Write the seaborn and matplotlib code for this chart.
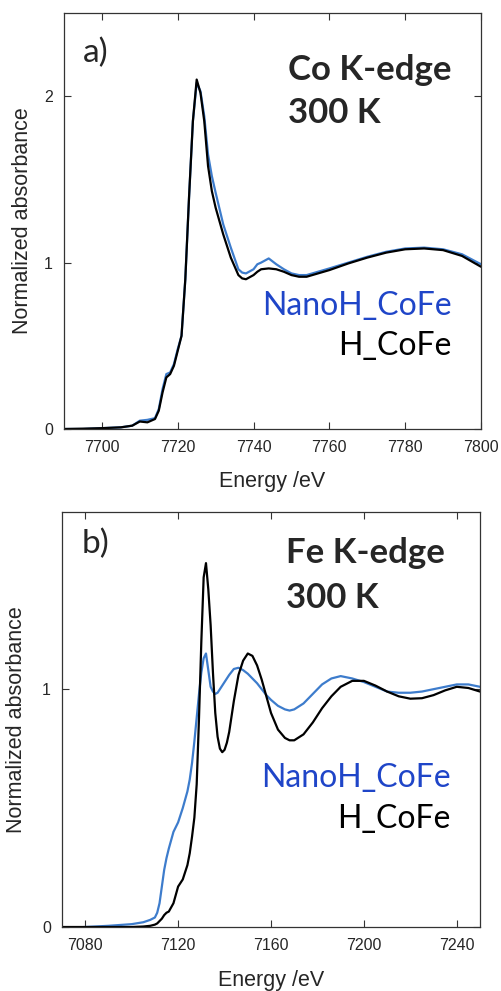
import matplotlib
matplotlib.use("Agg")
import matplotlib.pyplot as plt
import seaborn as sns
import pandas as pd

# ---- data ----
co_energy = [7690, 7695, 7700, 7705, 7708, 7710, 7712, 7714, 7715, 7716, 7717, 7718, 7719, 7720,
             7721, 7722, 7723, 7724, 7725, 7726, 7727, 7728, 7729, 7730, 7732, 7734, 7736, 7737,
             7738, 7740, 7741, 7742, 7744, 7746, 7748, 7750, 7752, 7754, 7760, 7765, 7770, 7775,
             7780, 7785, 7790, 7795, 7800]
co_h = [0.0, 0.002, 0.005, 0.01, 0.02, 0.045, 0.04, 0.06, 0.11, 0.22, 0.31, 0.33, 0.38, 0.47,
        0.56, 0.9, 1.4, 1.85, 2.1, 2.02, 1.85, 1.58, 1.43, 1.33, 1.17, 1.03, 0.925, 0.905,
        0.9, 0.925, 0.945, 0.96, 0.965, 0.96, 0.945, 0.925, 0.915, 0.915, 0.955, 0.995, 1.03, 1.06,
        1.08, 1.085, 1.075, 1.04, 0.975]
co_nano = [0.0, 0.0, 0.005, 0.01, 0.02, 0.05, 0.055, 0.065, 0.12, 0.24, 0.33, 0.34, 0.39, 0.48,
           0.56, 0.9, 1.4, 1.85, 2.08, 2.03, 1.88, 1.65, 1.52, 1.42, 1.23, 1.09, 0.96, 0.94,
           0.935, 0.96, 0.99, 1.0, 1.025, 0.99, 0.96, 0.935, 0.925, 0.925, 0.965, 1.0, 1.035, 1.065,
           1.085, 1.09, 1.08, 1.05, 0.99]

fe_energy = [7070, 7080, 7090, 7100, 7105, 7108, 7110, 7111, 7112, 7113, 7114, 7115, 7116, 7118,
             7120, 7122, 7124, 7125, 7126, 7127, 7128, 7129, 7130, 7131, 7132, 7133, 7134, 7135,
             7136, 7137, 7138, 7139, 7140, 7141, 7142, 7144, 7146, 7148, 7150, 7152, 7154, 7156,
             7158, 7160, 7163, 7166, 7168, 7170, 7174, 7178, 7182, 7186, 7190, 7195, 7200, 7205,
             7210, 7215, 7220, 7225, 7230, 7235, 7240, 7245, 7250]
fe_h = [0.0, 0.0, 0.0, 0.0, 0.002, 0.005, 0.01, 0.015, 0.025, 0.035, 0.05, 0.06, 0.065, 0.1,
        0.17, 0.2, 0.26, 0.31, 0.38, 0.46, 0.6, 0.88, 1.2, 1.47, 1.53, 1.42, 1.27, 1.07,
        0.9, 0.8, 0.75, 0.735, 0.745, 0.775, 0.82, 0.95, 1.06, 1.12, 1.15, 1.14, 1.1, 1.04,
        0.97, 0.9, 0.83, 0.795, 0.785, 0.785, 0.81, 0.86, 0.92, 0.97, 1.01, 1.035, 1.035, 1.015,
        0.99, 0.97, 0.96, 0.962, 0.975, 0.995, 1.01, 1.005, 0.99]
fe_nano = [-0.005, 0.0, 0.005, 0.012, 0.02, 0.03, 0.04, 0.06, 0.1, 0.17, 0.24, 0.29, 0.33, 0.4,
           0.44, 0.5, 0.57, 0.62, 0.69, 0.78, 0.88, 0.98, 1.07, 1.13, 1.15, 1.08, 1.01, 0.99,
           0.98, 0.985, 1.0, 1.015, 1.03, 1.045, 1.06, 1.085, 1.09, 1.08, 1.065, 1.045, 1.025, 1.0,
           0.975, 0.955, 0.93, 0.915, 0.91, 0.915, 0.94, 0.98, 1.02, 1.045, 1.055, 1.045, 1.03, 1.01,
           0.99, 0.985, 0.985, 0.99, 1.0, 1.01, 1.02, 1.02, 1.01]

series_names = ["NanoH_CoFe", "H_CoFe"]
co_xticks = [7700, 7720, 7740, 7760, 7780, 7800]
co_yticks = [0, 1, 2]
fe_xticks = [7080, 7120, 7160, 7200, 7240]
fe_yticks = [0, 1]

BLUE_LINE = "#3d7ccc"
BLUE_TEXT = "#1f45c8"

sns.set_style("ticks")
plt.rcParams["font.family"] = ["Liberation Sans", "DejaVu Sans"]

fig = plt.figure(figsize=(5.01, 9.91), dpi=100)
ax1 = fig.add_axes([64 / 501, (991 - 429) / 991, 417 / 501, 416 / 991])
ax2 = fig.add_axes([62 / 501, (991 - 927) / 991, 418 / 501, 415 / 991])

co_df = pd.DataFrame({"E": co_energy * 2, "A": co_nano + co_h,
                      "s": [series_names[0]] * len(co_energy) + [series_names[1]] * len(co_energy)})
fe_df = pd.DataFrame({"E": fe_energy * 2, "A": fe_nano + fe_h,
                      "s": [series_names[0]] * len(fe_energy) + [series_names[1]] * len(fe_energy)})
pal = {series_names[0]: BLUE_LINE, series_names[1]: "black"}

for ax, df, xl, yl, xt, yt, tag, edge, xlab_y, ylab_x, txt in [
    (ax1, co_df, (7690, 7800), (0, 2.5), co_xticks, co_yticks, "a)", "Co K-edge",
     -0.101, -0.074, [0.882, 0.839, 0.735, 0.274, 0.178]),
    (ax2, fe_df, (7070, 7250), (0, 1.745), fe_xticks, fe_yticks, "b)", "Fe K-edge",
     -0.104, -0.084, [0.90, 0.877, 0.769, 0.337, 0.239]),
]:
    sns.lineplot(data=df, x="E", y="A", hue="s", palette=pal, hue_order=series_names,
                 estimator=None, sort=False, linewidth=1.6, legend=False, ax=ax)
    ax.set_xlim(*xl)
    ax.set_ylim(*yl)
    ax.set_xticks(xt)
    ax.set_yticks(yt)
    ax.tick_params(direction="in", top=True, right=True, length=5, width=0.8,
                   labelsize=11.5, pad=8, color="#333333")
    for sp in ax.spines.values():
        sp.set_visible(True)
        sp.set_linewidth(0.9)
        sp.set_color("#333333")
    ax.set_xlabel("Energy /eV", fontsize=15.5)
    ax.set_ylabel("Normalized absorbance", fontsize=15.5)
    ax.xaxis.set_label_coords(0.5, xlab_y)
    ax.yaxis.set_label_coords(ylab_x, 0.5)

    ax.text(0.046, txt[0], tag, transform=ax.transAxes, fontsize=24,
            family=["Lato", "DejaVu Sans"], va="baseline", ha="left")
    ax.text(0.537, txt[1], edge, transform=ax.transAxes, fontsize=25, fontweight="bold",
            family=["Lato", "DejaVu Sans"], va="baseline", ha="left")
    ax.text(0.537, txt[2], "300 K", transform=ax.transAxes, fontsize=25, fontweight="bold",
            family=["Lato", "DejaVu Sans"], va="baseline", ha="left")
    ax.text(0.93, txt[3], series_names[0], transform=ax.transAxes, fontsize=23,
            color=BLUE_TEXT, family=["Lato", "DejaVu Sans"], va="baseline", ha="right")
    ax.text(0.93, txt[4], series_names[1], transform=ax.transAxes, fontsize=23,
            color="black", family=["Lato", "DejaVu Sans"], va="baseline", ha="right")

fig.savefig("out.png", dpi=100)
